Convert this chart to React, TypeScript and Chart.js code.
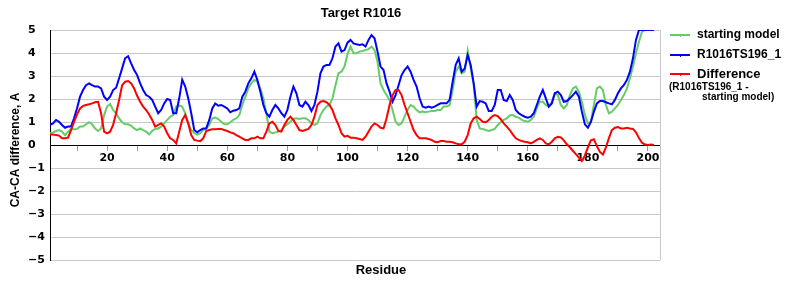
import React, { useEffect, useRef } from 'react';
import { Chart, registerables } from 'chart.js';

Chart.register(...registerables);

const TITLE = 'Target R1016';
const X_TITLE = 'Residue';
const Y_TITLE = 'CA-CA difference, A';
const SERIES_NAMES = ['starting model', 'R1016TS196_1', 'Difference'];
const DIFF_NOTE = ['(R1016TS196_1 -', 'starting model)'];
const FIRST_RESIDUE = 1;
const xTickValues = [10, 20, 30, 40, 50, 60, 70, 80, 90, 100, 110, 120, 130, 140, 150, 160, 170, 180, 190, 200];
const xLabelEvery = 20;
const yTickValues = [-5, -4, -3, -2, -1, 0, 1, 2, 3, 4, 5];

const startingModel = [
  0.51, 0.55, 0.61, 0.65, 0.58, 0.43, 0.58, 0.70, 0.68, 0.70,
  0.80, 0.80, 0.90, 0.99, 0.90, 0.72, 0.61, 0.72, 1.30, 1.67,
  1.78, 1.52, 1.38, 1.16, 0.99, 0.90, 0.90, 0.84, 0.72, 0.65,
  0.72, 0.65, 0.58, 0.46, 0.61, 0.70, 0.72, 0.80, 0.94, 1.09,
  1.23, 1.30, 1.67, 1.71, 1.67, 1.38, 0.94, 0.65, 0.51, 0.45,
  0.51, 0.65, 0.72, 0.87, 1.16, 1.19, 1.13, 1.01, 0.90, 0.90,
  0.99, 1.09, 1.16, 1.30, 1.74, 2.10, 2.46, 2.68, 2.83, 2.75,
  2.46, 2.03, 1.38, 0.58, 0.51, 0.55, 0.58, 0.65, 0.80, 0.90,
  1.01, 1.13, 1.16, 1.13, 1.16, 1.16, 1.09, 0.94, 0.87, 0.94,
  1.30, 1.52, 1.67, 1.74, 2.03, 2.60, 3.12, 3.19, 3.41, 3.95,
  4.28, 3.99, 3.99, 4.06, 4.09, 4.13, 4.17, 4.28, 4.13, 3.62,
  2.68, 2.39, 2.17, 1.96, 1.52, 1.01, 0.87, 0.94, 1.23, 1.52,
  1.74, 1.67, 1.52, 1.42, 1.45, 1.42, 1.45, 1.48, 1.48, 1.52,
  1.52, 1.67, 1.67, 1.74, 2.39, 3.19, 3.41, 3.12, 3.19, 4.10,
  3.33, 2.61, 1.09, 0.72, 0.70, 0.65, 0.61, 0.65, 0.70, 0.87,
  1.00, 1.09, 1.16, 1.28, 1.30, 1.23, 1.19, 1.09, 1.04, 1.01,
  1.09, 1.23, 1.59, 1.88, 1.88, 1.74, 1.67, 1.88, 2.25, 2.17,
  1.74, 1.59, 1.74, 2.17, 2.46, 2.54, 2.32, 1.88, 1.30, 0.94,
  1.01, 1.74, 2.46, 2.54, 2.39, 1.74, 1.38, 1.45, 1.59, 1.74,
  1.96, 2.17, 2.46, 2.90, 3.41, 3.99, 4.49, 4.93, 5.00, 5.00,
  5.00, 5.00,
];

const model196 = [
  0.87, 0.94, 1.09, 1.01, 0.87, 0.75, 0.80, 0.80, 1.16, 1.60,
  2.10, 2.39, 2.60, 2.68, 2.60, 2.54, 2.54, 2.46, 2.10, 1.96,
  2.10, 2.39, 2.49, 2.90, 3.33, 3.77, 3.86, 3.55, 3.26, 3.04,
  2.68, 2.39, 2.17, 2.10, 1.96, 1.67, 1.38, 1.52, 1.81, 2.00,
  1.96, 1.38, 1.38, 2.03, 2.84, 2.54, 2.03, 1.38, 0.65, 0.55,
  0.65, 0.72, 0.72, 1.09, 1.59, 1.81, 1.71, 1.74, 1.67, 1.59,
  1.42, 1.49, 1.52, 1.59, 2.10, 2.32, 2.68, 2.90, 3.19, 2.83,
  2.32, 1.74, 1.38, 1.23, 1.52, 1.74, 1.59, 1.38, 1.23, 1.52,
  2.10, 2.54, 2.25, 1.74, 1.67, 1.88, 1.74, 1.48, 1.74, 2.32,
  3.12, 3.41, 3.48, 3.48, 3.77, 4.28, 4.42, 4.06, 4.13, 4.45,
  4.57, 4.42, 4.38, 4.35, 4.38, 4.28, 4.57, 4.78, 4.64, 4.06,
  3.41, 3.26, 2.68, 2.32, 1.88, 2.17, 2.60, 3.04, 3.26, 3.41,
  3.19, 2.83, 2.54, 2.03, 1.67, 1.62, 1.67, 1.62, 1.67, 1.74,
  1.81, 1.81, 1.81, 1.96, 2.75, 3.48, 3.77, 3.19, 3.33, 3.91,
  3.48, 2.68, 1.67, 1.91, 1.88, 1.81, 1.48, 1.48, 1.74, 2.39,
  2.39, 1.96, 1.91, 2.17, 1.96, 1.52, 1.38, 1.30, 1.23, 1.19,
  1.23, 1.38, 1.74, 2.10, 2.39, 2.03, 1.67, 1.81, 2.25, 2.32,
  2.17, 1.88, 1.91, 2.03, 2.17, 2.32, 2.10, 1.45, 0.90, 0.75,
  1.00, 1.45, 1.81, 1.91, 1.91, 1.86, 1.81, 1.77, 1.96, 2.25,
  2.46, 2.61, 2.83, 3.19, 3.77, 4.57, 5.00, 5.00, 5.00, 5.00,
  5.00, 5.00,
];

const difference = [
  0.46, 0.46, 0.43, 0.41, 0.29, 0.29, 0.32, 0.65, 1.01, 1.33,
  1.59, 1.70, 1.74, 1.77, 1.81, 1.86, 1.88, 1.38, 0.58, 0.51,
  0.58, 0.87, 1.38, 1.96, 2.60, 2.75, 2.78, 2.68, 2.46, 2.14,
  1.88, 1.67, 1.52, 1.33, 1.09, 0.80, 0.87, 0.94, 0.80, 0.51,
  0.29, 0.22, 0.07, 0.58, 1.09, 1.30, 0.94, 0.43, 0.22, 0.19,
  0.17, 0.29, 0.61, 0.65, 0.68, 0.68, 0.70, 0.70, 0.65, 0.61,
  0.55, 0.51, 0.43, 0.36, 0.29, 0.22, 0.22, 0.29, 0.29, 0.36,
  0.29, 0.29, 0.58, 0.94, 1.01, 0.87, 0.61, 0.58, 0.87, 1.09,
  1.23, 1.09, 0.87, 0.65, 0.61, 0.65, 0.70, 0.87, 1.23, 1.74,
  1.88, 1.91, 1.86, 1.74, 1.52, 1.16, 0.87, 0.51, 0.36, 0.40,
  0.32, 0.32, 0.29, 0.26, 0.22, 0.36, 0.58, 0.80, 0.94, 0.87,
  0.75, 0.72, 1.16, 1.74, 2.17, 2.39, 2.39, 2.17, 1.74, 1.38,
  1.01, 0.65, 0.43, 0.29, 0.29, 0.29, 0.26, 0.22, 0.14, 0.12,
  0.17, 0.17, 0.14, 0.14, 0.12, 0.07, 0.03, 0.03, 0.14, 0.43,
  0.94, 1.16, 1.23, 1.13, 1.01, 0.99, 1.09, 1.23, 1.30, 1.26,
  1.12, 0.94, 0.80, 0.65, 0.46, 0.29, 0.22, 0.17, 0.14, 0.12,
  0.07, 0.14, 0.22, 0.29, 0.22, 0.07, 0.03, 0.14, 0.29, 0.36,
  0.33, 0.20, 0.03, -0.10, -0.25, -0.40, -0.55, -0.70, -0.45, -0.10,
  0.20, 0.25, -0.05, -0.30, -0.42, -0.10, 0.30, 0.65, 0.75, 0.78,
  0.72, 0.72, 0.75, 0.72, 0.70, 0.55, 0.30, 0.10, 0.02, 0.00,
  0.02, 0.00,
];

const GREEN = '#66cc66';
const BLUE = '#0000ff';
const RED = '#ff0000';
const GRID = '#c8c8c8';
const SANS = '"Liberation Sans", Arial, sans-serif';
const TICK_FONT = { family: '"DejaVu Sans", Verdana, sans-serif', size: 11, weight: 'bold' as const };

export default function App() {
  const ref = useRef<HTMLCanvasElement>(null);

  useEffect(() => {
    const canvas = ref.current;
    if (!canvas) return;
    const toPoints = (arr: number[]) => arr.map((y, i) => ({ x: FIRST_RESIDUE + i, y }));

    const decor = {
      id: 'decor',
      afterDraw(chart: any) {
        const { ctx, chartArea: a } = chart;
        ctx.save();
        // right border
        ctx.strokeStyle = GRID;
        ctx.lineWidth = 1;
        ctx.beginPath();
        ctx.moveTo(Math.round(a.right) + 0.5, a.top);
        ctx.lineTo(Math.round(a.right) + 0.5, a.bottom);
        ctx.stroke();

        ctx.fillStyle = '#000';
        ctx.textAlign = 'center';
        ctx.textBaseline = 'middle';
        ctx.font = `bold 13px ${SANS}`;
        ctx.fillText(TITLE, 361, 13);
        ctx.fillText(X_TITLE, 381, 270);

        ctx.save();
        ctx.translate(16, 150);
        ctx.rotate(-Math.PI / 2);
        ctx.font = `bold 12px ${SANS}`;
        ctx.fillText(Y_TITLE, 0, 0);
        ctx.restore();

        // legend
        const items = [
          { color: GREEN, y: 35, text: SERIES_NAMES[0], size: 12 },
          { color: BLUE, y: 55, text: SERIES_NAMES[1], size: 12 },
          { color: RED, y: 74, text: SERIES_NAMES[2], size: 13 },
        ];
        ctx.textAlign = 'left';
        for (const it of items) {
          ctx.strokeStyle = it.color;
          ctx.lineWidth = 2;
          ctx.beginPath();
          ctx.moveTo(670, it.y);
          ctx.lineTo(690, it.y);
          ctx.stroke();
          ctx.lineWidth = 1;
          ctx.beginPath();
          ctx.moveTo(680.5, it.y - 1);
          ctx.lineTo(680.5, it.y + 2);
          ctx.stroke();
          ctx.fillStyle = '#000';
          ctx.font = `bold ${it.size}px ${SANS}`;
          ctx.fillText(it.text, 697, it.y);
        }
        ctx.font = `bold 10px ${SANS}`;
        ctx.fillText(DIFF_NOTE[0], 669, 87);
        ctx.fillText(DIFF_NOTE[1], 702, 97.5);
        ctx.restore();
      },
    };

    const chart = new Chart(canvas, {
      type: 'line',
      data: {
        datasets: [
          { label: SERIES_NAMES[0], data: toPoints(startingModel), borderColor: GREEN, backgroundColor: GREEN, borderWidth: 2, pointRadius: 0, order: 3 },
          { label: SERIES_NAMES[1], data: toPoints(model196), borderColor: BLUE, backgroundColor: BLUE, borderWidth: 2, pointRadius: 0, order: 2 },
          { label: SERIES_NAMES[2], data: toPoints(difference), borderColor: RED, backgroundColor: RED, borderWidth: 2, pointRadius: 0, order: 1 },
        ],
      },
      options: {
        responsive: false,
        animation: false,
        devicePixelRatio: 1,
        layout: { padding: { top: 30, right: 140, bottom: 40, left: 28 } },
        plugins: { legend: { display: false }, tooltip: { enabled: false }, title: { display: false } },
        scales: {
          x: {
            type: 'linear',
            min: 1,
            max: 204,
            position: { y: 0 } as any,
            afterBuildTicks: (s: any) => { s.ticks = xTickValues.map((v) => ({ value: v })); },
            ticks: {
              autoSkip: false,
              maxRotation: 0,
              font: TICK_FONT,
              color: '#000',
              padding: 2,
              callback: (v: any) => (Number(v) % xLabelEvery === 0 ? String(v) : ''),
            },
            grid: { drawOnChartArea: false, drawTicks: true, tickLength: 5, color: '#999999' },
            border: { display: true, color: '#000', width: 1 },
          },
          y: {
            type: 'linear',
            min: -5,
            max: 5,
            afterBuildTicks: (s: any) => { s.ticks = yTickValues.map((v) => ({ value: v })); },
            afterFit: (s: any) => { s.width = 22; },
            ticks: {
              crossAlign: 'far',
              font: TICK_FONT,
              color: '#000',
              callback: (v: any) => (Number(v) < 0 ? '\u2212' + Math.abs(Number(v)) : String(v)),
            },
            grid: {
              drawTicks: false,
              color: (c: any) => (c.tick && c.tick.value === 0 ? '#000' : GRID),
            },
            border: { display: true, color: '#000', width: 1 },
          },
        },
      },
      plugins: [decor],
    });
    return () => chart.destroy();
  }, []);

  return (
    <div style={{ position: 'absolute', left: 0, top: 0, width: 800, height: 300, background: '#fff' }}>
      <canvas ref={ref} width={800} height={300} style={{ width: 800, height: 300, display: 'block' }} />
    </div>
  );
}
